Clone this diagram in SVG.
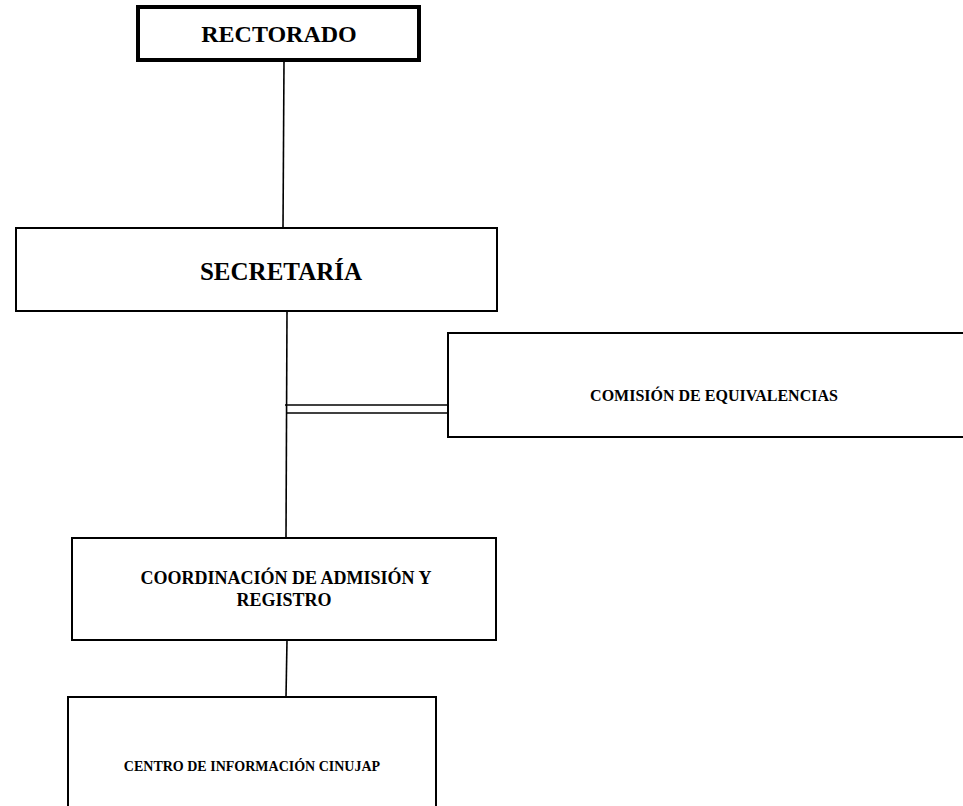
<svg xmlns="http://www.w3.org/2000/svg" width="963" height="806" viewBox="0 0 963 806">
<style>
  .box { fill: #fff; stroke: #000; stroke-width: 2; }
  .thick { stroke-width: 4; }
  .t { font-family: "Liberation Serif", "Times New Roman", serif; font-weight: bold; fill: #000; text-anchor: middle; }
  .conn line { stroke: #000; stroke-width: 1.6; }
</style>
<rect width="963" height="806" fill="#fff"/>
<g class="conn">
  <line x1="284" y1="61" x2="283" y2="228"/>
  <line x1="287" y1="311" x2="286" y2="538"/>
  <line x1="285" y1="405" x2="448" y2="405"/>
  <line x1="286" y1="413" x2="450" y2="413"/>
  <line x1="287" y1="640" x2="286" y2="697"/>
</g>
<g id="rectorado">
  <rect class="box thick" x="138" y="7" width="281" height="53"/>
  <text class="t" x="279" y="42" font-size="24">RECTORADO</text>
</g>
<g id="secretaria">
  <rect class="box" x="16" y="228" width="481" height="83"/>
  <text class="t" x="281" y="280" font-size="25">SECRETARÍA</text>
</g>
<g id="comision">
  <rect class="box" x="448" y="333" width="530" height="104"/>
  <text class="t" x="714" y="401" font-size="16">COMISIÓN DE EQUIVALENCIAS</text>
</g>
<g id="coordinacion">
  <rect class="box" x="72" y="538" width="424" height="102"/>
  <text class="t" x="286" y="584" font-size="18">COORDINACIÓN DE ADMISIÓN Y</text>
  <text class="t" x="284" y="606" font-size="18">REGISTRO</text>
</g>
<g id="centro">
  <rect class="box" x="68" y="697" width="368" height="130"/>
  <text class="t" x="252" y="771" font-size="14">CENTRO DE INFORMACIÓN CINUJAP</text>
</g>
</svg>
